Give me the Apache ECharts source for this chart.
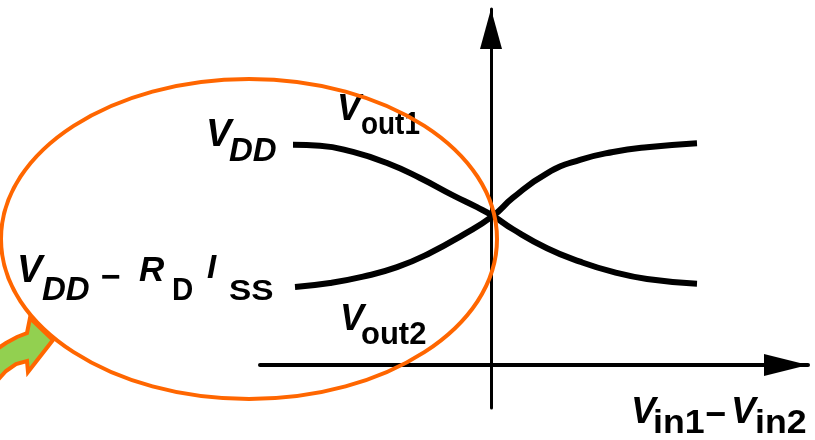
<!DOCTYPE html>
<html>
<head>
<meta charset="utf-8">
<title>Differential pair output characteristic</title>
<script src="https://cdn.jsdelivr.net/npm/echarts@6/dist/echarts.min.js"></script>
<style>
  html, body { margin: 0; padding: 0; background: #ffffff; }
  #chart { width: 815px; height: 440px; }
</style>
</head>
<body>
<div id="chart"></div>
<script>
// Differential input voltage (Vin1 - Vin2), arbitrary units, 0 at the crossing
const vinDiff1 = [-1.98, -1.71, -1.38, -1.04, -0.71, -0.38, -0.14, 0.02, 0.22, 0.56, 0.89, 1.22, 1.56, 2.06];
const vout1    = [ 2.79,  2.78,  2.70,  2.56,  2.37,  2.15,  2.00, 1.89, 1.72, 1.48, 1.31, 1.18, 1.09, 1.03];
const vinDiff2 = [-1.96, -1.61, -1.28, -0.94, -0.61, -0.28, 0.02, 0.22, 0.56, 0.89, 1.22, 1.56, 2.06];
const vout2    = [ 0.99,  1.04,  1.12,  1.24,  1.42,  1.65, 1.89, 2.12, 2.43, 2.60, 2.70, 2.76, 2.81];

// Axis extents (value units)
const xRange = [-2.31, 3.17];
const yRange = [-0.545, 4.512];

const FONT = 'Liberation Sans';
const INK = '#000000';

// Text piece placed by its left edge and baseline
function piece(str, left, baseline, size, opt) {
  opt = opt || {};
  return {
    type: 'text',
    x: left,
    y: baseline - 0.3465 * size,
    scaleX: opt.sx || 1,
    z: 20,
    style: {
      text: str,
      fontFamily: FONT,
      fontSize: size,
      fontWeight: opt.weight || 'bold',
      fontStyle: opt.italic ? 'italic' : 'normal',
      fill: INK,
      textAlign: 'left',
      textVerticalAlign: 'middle'
    }
  };
}

const pairs = (xs, ys) => xs.map((x, i) => [x, ys[i]]);

const chart = echarts.init(document.getElementById('chart'), null, { renderer: 'canvas' });

chart.setOption({
  backgroundColor: '#ffffff',
  animation: false,
  grid: { left: 260, right: 7, top: 9, bottom: 32 },
  xAxis: {
    type: 'value',
    min: xRange[0], max: xRange[1],
    axisLine: {
      onZero: true,
      symbol: ['none', 'triangle'],
      symbolSize: [22, 44],
      symbolOffset: [0, -22],
      lineStyle: { color: INK, width: 4 }
    },
    axisTick: { show: false }, axisLabel: { show: false }, splitLine: { show: false }
  },
  yAxis: {
    type: 'value',
    min: yRange[0], max: yRange[1],
    axisLine: {
      onZero: true,
      symbol: ['none', 'triangle'],
      symbolSize: [22, 40],
      symbolOffset: [0, -20],
      lineStyle: { color: INK, width: 3 }
    },
    axisTick: { show: false }, axisLabel: { show: false }, splitLine: { show: false }
  },
  series: [
    {
      name: 'Vout1', type: 'line', data: pairs(vinDiff1, vout1),
      smooth: true, showSymbol: false, silent: true,
      lineStyle: { color: INK, width: 6, cap: 'butt' }
    },
    {
      name: 'Vout2', type: 'line', data: pairs(vinDiff2, vout2),
      smooth: true, showSymbol: false, silent: true,
      lineStyle: { color: INK, width: 6, cap: 'butt' }
    }
  ],
  graphic: [
    // V_DD
    piece('V', 206, 149, 38, { italic: true }),
    piece('DD', 229, 163, 33, { italic: true, sx: 1.0 }),
    // V_DD - R_D I_SS
    piece('V', 17, 285, 38, { italic: true }),
    piece('DD', 42, 302, 33, { italic: true, sx: 1.0 }),
    piece('\u2212', 101, 290, 34),
    piece('R', 139, 283, 35, { italic: true }),
    piece('D', 172, 302, 31, { sx: 0.95 }),
    piece('I', 207, 280, 33, { italic: true }),
    piece('SS', 229, 302, 29, { sx: 1.15 }),
    // V_out1 / V_out2
    piece('V', 337, 123, 36, { italic: true }),
    piece('out1', 361, 136, 31, { sx: 0.9 }),
    piece('V', 340, 333, 36, { italic: true }),
    piece('out2', 361, 346, 31, { sx: 1.0 }),
    // V_in1 - V_in2
    piece('V', 631, 426, 37, { italic: true }),
    piece('in1', 653, 435, 34, { sx: 1.05 }),
    piece('\u2212', 705, 429, 36),
    piece('V', 731, 426, 37, { italic: true }),
    piece('in2', 755, 435, 34, { sx: 1.05 }),
    // highlight ellipse
    {
      type: 'ellipse', z: 30, silent: true,
      shape: { cx: 249, cy: 239, rx: 248, ry: 160 },
      style: { fill: 'none', stroke: '#FF6600', lineWidth: 4 }
    },
    // pointer arrow
    {
      type: 'polygon', z: 31, silent: true,
      shape: { points: [[-6, 351], [6, 343], [17, 337], [27, 333], [30, 318], [53, 340], [28, 372], [27, 361], [16, 364], [6, 371], [-6, 384]] },
      style: { fill: '#92D050', stroke: '#FF6600', lineWidth: 4, lineJoin: 'miter' }
    }
  ]
});
</script>
</body>
</html>
